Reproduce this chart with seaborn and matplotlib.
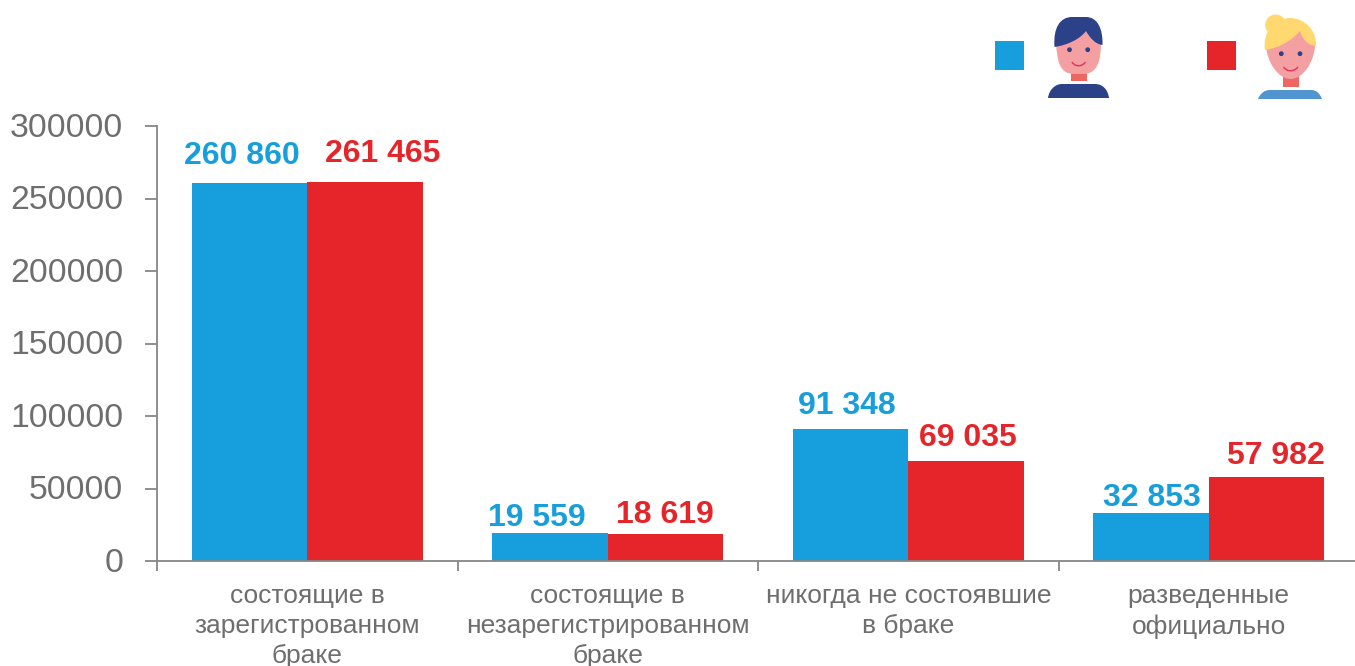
import numpy as np
import pandas as pd
import matplotlib
matplotlib.use("Agg")
import matplotlib.pyplot as plt
from matplotlib.patches import Circle, PathPatch, Rectangle
from matplotlib.path import Path
from matplotlib.transforms import ScaledTranslation
import seaborn as sns

categories = ["состоящие в\nзарегистрованном\nбраке", "состоящие в\nнезарегистрированном\nбраке",
              "никогда не состоявшие\nв браке", "разведенные\nофициально"]
men = [260860, 19559, 91348, 32853]
women = [261465, 18619, 69035, 57982]
men_labels = ["260 860", "19 559", "91 348", "32 853"]
women_labels = ["261 465", "18 619", "69 035", "57 982"]
yticks = [0, 50000, 100000, 150000, 200000, 250000, 300000]

BLUE = "#179fdd"
RED = "#e6252a"
GREY = "#6e6e6e"
AXIS = "#868686"
NAVY = "#2b4188"
SKIN = "#f4a0a3"
NECK = "#ee6662"
BLOND = "#ffd970"
SHIRT = "#5095d0"
MOUTH = "#e8385a"

# label offsets from the top centre of each bar, in pixels (right, up)
men_off = [(-8, 27), (-13, 15), (-4, 23), (1, 15)]
women_off = [(18, 28), (-1, 19), (2, 23), (9, 21)]


def shape(ov, start, segs, color, fill=True, lw=0):
	""" Adds a closed or open bezier shape in pixel coordinates.
	Each segment is a single point (line) or three points (cubic curve).
	"""
	verts = [start]
	codes = [Path.MOVETO]
	for s in segs:
		if len(s) == 1:
			verts += s
			codes.append(Path.LINETO)
		else:
			verts += s
			codes += [Path.CURVE4] * 3
	kw = {"facecolor": color, "edgecolor": "none"} if fill else {"facecolor": "none", "edgecolor": color, "linewidth": lw}
	ov.add_patch(PathPatch(Path(verts, codes), **kw))


sns.set_theme(style="white")
plt.rcParams["font.family"] = ["Liberation Sans", "DejaVu Sans"]

W, H = 1355, 666
fig = plt.figure(figsize=(W / 100, H / 100), dpi=100)
ax = fig.add_axes([157 / W, 1 - 561 / H, (1359 - 157) / W, (561 - 126) / H])

df = pd.DataFrame({"cat": categories * 2, "val": men + women,
                   "sex": ["m"] * 4 + ["f"] * 4})
sns.barplot(data=df, x="cat", y="val", hue="sex", palette=[BLUE, RED], ax=ax,
            width=0.77, gap=0, saturation=1, legend=False, linewidth=0)
ax.set_xlim(-0.5, 3.5)
ax.set_ylim(0, 300000)
ax.set_xlabel("")
ax.set_ylabel("")
ax.set_yticks(yticks)
ax.set_yticklabels([str(v) for v in yticks], fontsize=24.3, color=GREY)
ax.set_xticks([-0.5, 0.5, 1.5, 2.5, 3.5], minor=True)
ax.set_xticks(range(4))
ax.set_xticklabels(categories, fontsize=19, color=GREY, linespacing=1.3)
ax.tick_params(axis="x", which="major", length=0, pad=16.7)
ax.tick_params(axis="x", which="minor", length=7, width=1.3, color=AXIS, bottom=True)
ax.tick_params(axis="y", length=9, width=1.3, color=AXIS, pad=15.3, left=True)
for lab in ax.get_yticklabels():
	lab.set_transform(lab.get_transform() + ScaledTranslation(0, 1 / 72, fig.dpi_scale_trans))
for s in ["top", "right"]:
	ax.spines[s].set_visible(False)
for s in ["left", "bottom"]:
	ax.spines[s].set_color(AXIS)
	ax.spines[s].set_linewidth(1.3)

# --- Value labels
off = 0.77 / 4
for i in range(4):
	ax.annotate(men_labels[i], (i - off, men[i]), xytext=(men_off[i][0] * 0.72, men_off[i][1] * 0.72),
				textcoords="offset points", color=BLUE, fontsize=23, fontweight="bold", ha="center", va="center")
	ax.annotate(women_labels[i], (i + off, women[i]), xytext=(women_off[i][0] * 0.72, women_off[i][1] * 0.72),
				textcoords="offset points", color=RED, fontsize=23, fontweight="bold", ha="center", va="center")

# --- Legend icons on a full-figure overlay in pixel space
ov = fig.add_axes([0, 0, 1, 1])
ov.set_xlim(0, W)
ov.set_ylim(H, 0)
ov.axis("off")
ov.patch.set_alpha(0)
ov.add_patch(Rectangle((995, 41), 29, 29, color=BLUE, lw=0))
ov.add_patch(Rectangle((1207, 41), 29, 29, color=RED, lw=0))

# man
ov.add_patch(Rectangle((1071, 72), 16, 9, color=NECK, lw=0))
shape(ov, (1048, 98), [[(1049, 90), (1055, 84), (1062, 84)], [(1095, 84)],
					   [(1103, 84), (1108, 90), (1109, 98)], [(1048, 98)]], NAVY)
shape(ov, (1056, 42), [[(1060, 26)], [(1097, 26)], [(1101, 42)], [(1101, 62), (1097, 74), (1083, 74)], [(1074, 74)],
					   [(1060, 74), (1057, 62), (1056, 42)]], SKIN)
shape(ov, (1054.5, 47), [[(1053, 28), (1060, 17), (1072, 17)], [(1086, 17)],
						 [(1097, 17), (1103, 28), (1102.5, 45)], [(1095, 44), (1090, 38), (1086, 31)],
						 [(1080, 39), (1068, 45), (1054.5, 47)]], NAVY)
ov.add_patch(Circle((1069.5, 49.7), 2.4, color=NAVY, lw=0))
ov.add_patch(Circle((1087.7, 49.7), 2.4, color=NAVY, lw=0))
shape(ov, (1072, 62), [[(1075, 67), (1082, 67), (1085.5, 62)]], MOUTH, fill=False, lw=1.1)

# woman
ov.add_patch(Rectangle((1283, 76), 16, 11, color=NECK, lw=0))
shape(ov, (1258, 99), [[(1260, 94), (1264, 90), (1270, 90)], [(1311, 90)],
					   [(1317, 90), (1320, 94), (1322, 99)], [(1258, 99)]], SHIRT)
shape(ov, (1266, 46), [[(1267, 62), (1278, 79), (1290.7, 79)], [(1303, 79), (1314, 62), (1315, 46)],
					   [(1306, 26)], [(1275, 26)], [(1266, 46)]], SKIN)
ov.add_patch(Circle((1275.7, 25), 10.5, color=BLOND, lw=0))
shape(ov, (1265, 50), [[(1262, 32), (1275, 18), (1290, 18)], [(1306, 18), (1317, 32), (1316, 46)],
					   [(1307, 45), (1302, 38), (1300, 31)], [(1292, 40), (1280, 48), (1265, 50)]], BLOND)
ov.add_patch(Circle((1281.3, 53.7), 2.4, color=NAVY, lw=0))
ov.add_patch(Circle((1300, 53.7), 2.4, color=NAVY, lw=0))
shape(ov, (1283.5, 67), [[(1287, 72), (1294, 72), (1298, 67)]], MOUTH, fill=False, lw=1.1)

plt.savefig("out.png", dpi=100)
